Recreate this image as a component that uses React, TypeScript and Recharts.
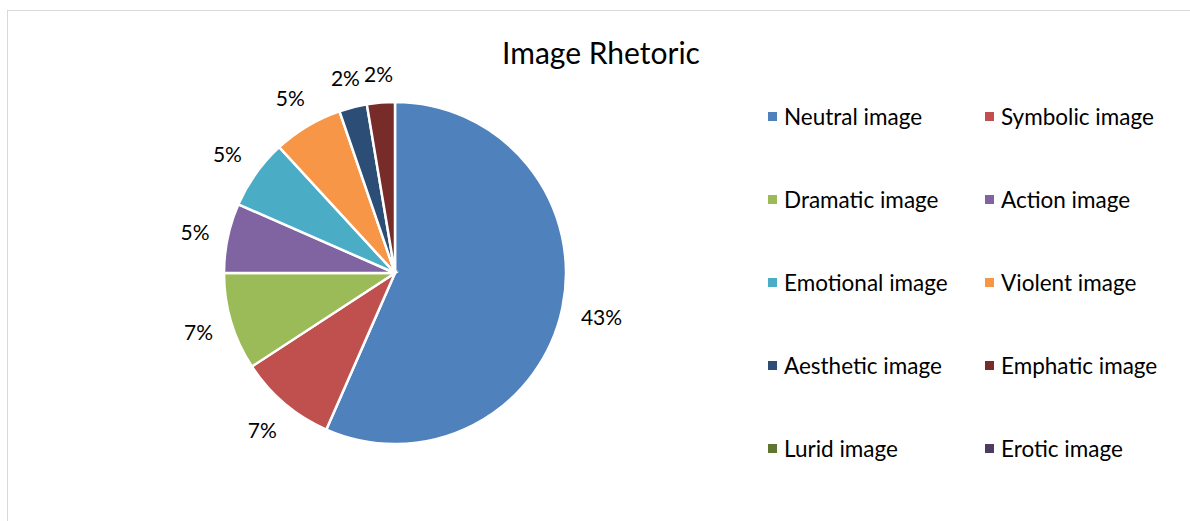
import React from 'react';
import { PieChart, Pie, Cell } from 'recharts';

const categories = [
    'Neutral image', 'Symbolic image', 'Dramatic image', 'Action image', 'Emotional image',
    'Violent image', 'Aesthetic image', 'Emphatic image', 'Lurid image', 'Erotic image',
];
const shares = [43, 7, 7, 5, 5, 5, 2, 2, 0, 0];
const colors = [
    '#4F81BD', '#C0504D', '#9BBB59', '#8064A2', '#4BACC6',
    '#F79646', '#2C4D75', '#772C2A', '#5F7530', '#4D3B62',
];

const data = categories.map((name, i) => ({ name, value: shares[i] }));

const FONT = 'Lato, "Open Sans", sans-serif';
const RADIAN = Math.PI / 180;

const renderLabel = (props: any) => {
    const { cx, cy, midAngle, outerRadius, value } = props;
    if (!value) return null;
    const text = `${value}%`;
    const cos = Math.cos(-midAngle * RADIAN);
    const sin = Math.sin(-midAngle * RADIAN);
    // push the label out by half its box along the direction of the slice
    const halfW = text.length * 6.8;
    const halfH = 10;
    const dist = outerRadius + 18 + halfW * Math.abs(cos) + halfH * Math.abs(sin);
    return (
        <text
            x={cx + dist * cos}
            y={cy + dist * sin}
            textAnchor="middle"
            dominantBaseline="central"
            fill="#000"
            fontSize={21}
            fontFamily={FONT}
        >
            {text}
        </text>
    );
};

const LegendGrid: React.FC = () => (
    <div style={{ display: 'grid', gridTemplateColumns: '217px 200px', fontFamily: FONT }}>
        {categories.map((name, i) => (
            <div key={name} style={{ display: 'flex', alignItems: 'center', height: 83 }}>
                <span style={{ width: 9, height: 9, background: colors[i], display: 'inline-block', marginRight: 7, flexShrink: 0 }} />
                <span style={{ fontSize: 22.5, color: '#000', whiteSpace: 'nowrap' }}>{name}</span>
            </div>
        ))}
    </div>
);

const App: React.FC = () => {
    return (
        <div style={{ position: 'absolute', left: 0, top: 0, width: 1190, height: 521, overflow: 'hidden', background: '#fff' }}>
            <div
                style={{
                    position: 'absolute', left: 7, top: 10, width: 1200, height: 540,
                    border: '1px solid #D9D9D9', boxSizing: 'border-box',
                }}
            />
            <div
                style={{
                    position: 'absolute', left: 0, width: 1202, top: 32, textAlign: 'center',
                    fontFamily: FONT, fontSize: 30, color: '#000', lineHeight: '40px',
                }}
            >
                Image Rhetoric
            </div>
            <div style={{ position: 'absolute', left: 0, top: 0 }}>
                <PieChart width={1190} height={521} margin={{ top: 0, right: 0, bottom: 0, left: 0 }}>
                    <Pie
                        data={data}
                        dataKey="value"
                        nameKey="name"
                        cx={395}
                        cy={273}
                        outerRadius={171}
                        startAngle={90}
                        endAngle={-270}
                        stroke="#fff"
                        strokeWidth={2.5}
                        label={renderLabel}
                        labelLine={false}
                        isAnimationActive={false}
                    >
                        {data.map((d, i) => (
                            <Cell key={d.name} fill={colors[i]} />
                        ))}
                    </Pie>
                </PieChart>
            </div>
            <div style={{ position: 'absolute', left: 768, top: 75 }}>
                <LegendGrid />
            </div>
        </div>
    );
};

export default App;
